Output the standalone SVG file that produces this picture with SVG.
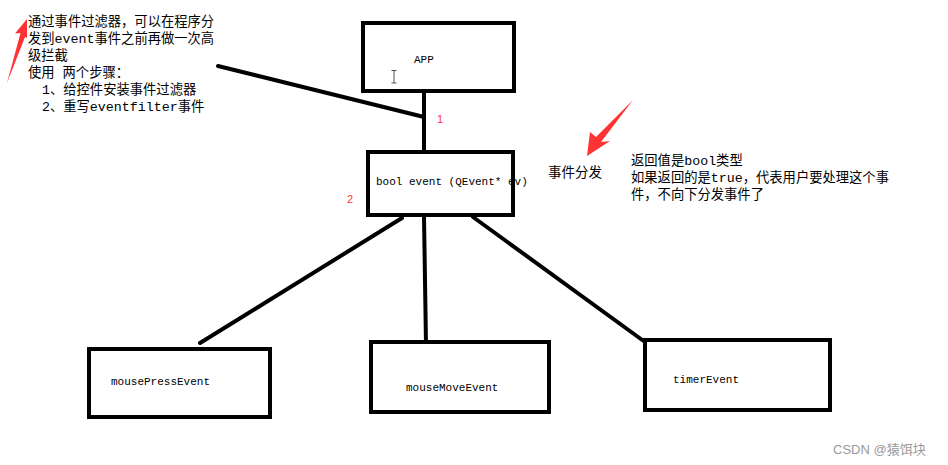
<svg xmlns="http://www.w3.org/2000/svg" width="948" height="465" viewBox="0 0 948 465">
<style>
.box{fill:#fff;stroke:#000;stroke-width:4}
.ln{stroke:#000;stroke-width:4;stroke-linecap:round;fill:none}
.lbl{font-family:"Liberation Mono","Noto Sans CJK SC",monospace;font-size:11px;fill:#000}
.note{font-family:"Liberation Mono","Noto Sans CJK SC",monospace;font-size:13.3px;fill:#000}
.num{font-family:"Liberation Sans",sans-serif;font-size:11px;fill:#f33}
.red{fill:#f33}
</style>
<rect width="948" height="465" fill="#fff"/>
<g id="connectors">
<line class="ln" x1="218" y1="66" x2="424" y2="117"/>
<line class="ln" x1="424" y1="92" x2="424" y2="152"/>
<line class="ln" x1="402" y1="218" x2="200" y2="343"/>
<line class="ln" x1="424" y1="217" x2="426" y2="344"/>
<line class="ln" x1="473" y1="217" x2="645" y2="342"/>
</g>
<g id="app">
<rect class="box" x="363" y="23" width="151" height="68"/>
<text class="lbl" x="414" y="63">APP</text>
<path d="M391.5 70.5h5M394 70.5v12.5M391.5 83h5" stroke="#555" stroke-width="1" fill="none"/>
</g>
<g id="event">
<text class="lbl" x="376" y="185">bool event (QEvent* ev)</text>
<rect x="368" y="152" width="145" height="63" fill="none" stroke="#000" stroke-width="4"/>
</g>
<g id="mousePress">
<rect class="box" x="89" y="349" width="181" height="68"/>
<text class="lbl" x="111" y="385">mousePressEvent</text>
</g>
<g id="mouseMove">
<rect class="box" x="371" y="342" width="178" height="70"/>
<text class="lbl" x="406" y="391">mouseMoveEvent</text>
</g>
<g id="timer">
<rect class="box" x="645" y="340" width="185" height="70"/>
<text class="lbl" x="673" y="383">timerEvent</text>
</g>
<g id="labels">
<text class="num" x="437" y="123">1</text>
<text class="num" x="347" y="203">2</text>
<text x="548" y="177" font-family="'Noto Sans CJK SC',sans-serif" font-size="13.5px">事件分发</text>
</g>
<g id="notes">
<text class="note" x="28" y="26">通过事件过滤器，可以在程序分</text>
<text class="note" x="28" y="43">发到event事件之前再做一次高</text>
<text class="note" x="28" y="60">级拦截</text>
<text class="note" x="28" y="77">使用 两个步骤：</text>
<text class="note" x="42" y="94">1、给控件安装事件过滤器</text>
<text class="note" x="42" y="111">2、重写eventfilter事件</text>
<text class="note" x="631" y="165">返回值是bool类型</text>
<text class="note" x="631" y="182">如果返回的是true，代表用户要处理这个事</text>
<text class="note" x="631" y="199">件，不向下分发事件了</text>
</g>
<g id="arrows">
<polygon class="red" points="27,19 15,33.5 20.5,33 7,83 25,37 27,38"/>
<polygon class="red" points="587,156 590,132 596,137 633,100 601,142 610,141"/>
</g>
<text x="833" y="454" font-family="'Liberation Sans','Noto Sans CJK SC',sans-serif" font-size="13px" fill="#999">CSDN @猿饵块</text>
</svg>
